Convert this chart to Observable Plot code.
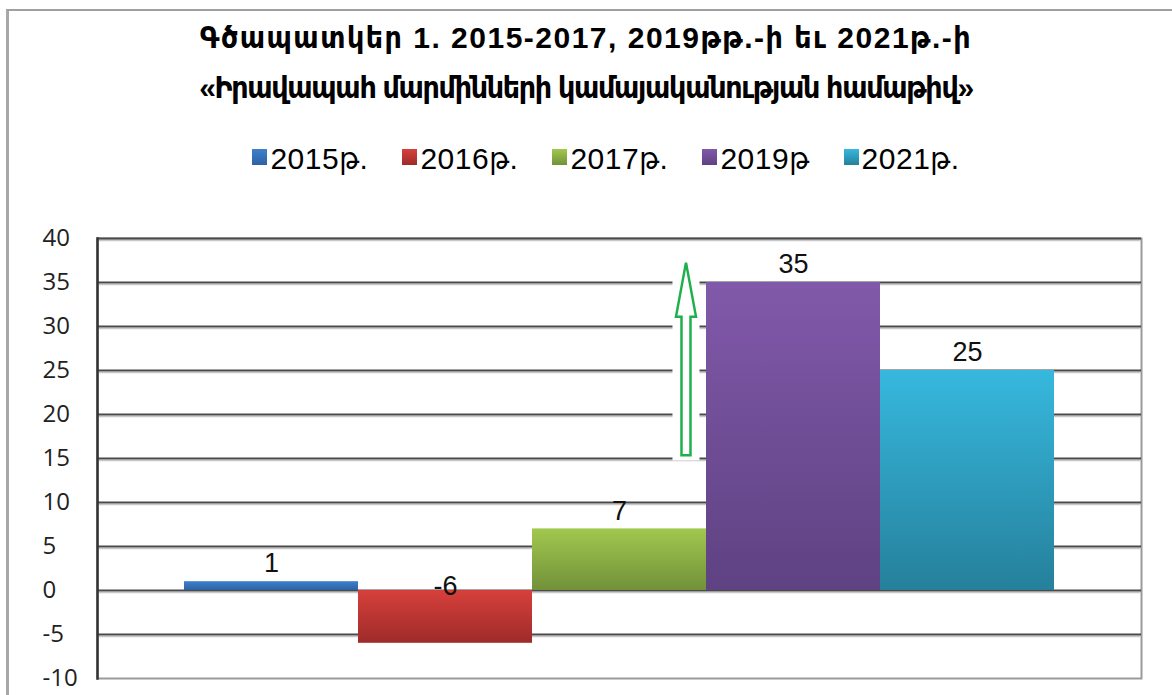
<!DOCTYPE html>
<html>
<head>
<meta charset="utf-8">
<script src="https://cdn.jsdelivr.net/npm/d3@7"></script>
<script src="https://cdn.jsdelivr.net/npm/@observablehq/plot@0.6"></script>
<style>
  body { margin: 0; background: #fff; width: 1172px; height: 695px; overflow: hidden; position: relative; }
  #frame { position: absolute; left: 6px; top: 9px; width: 1200px; height: 720px; border-left: 3px solid #a8a8a8; border-top: 2px solid #a0a0a0; box-sizing: border-box; }
  .title { position: absolute; left: 0; width: 1172px; text-align: center; font-family: "Liberation Sans", "DejaVu Sans Condensed", "DejaVu Sans", sans-serif; font-weight: bold; font-size: 30px; line-height: 30px; color: #000; white-space: nowrap; }
  #legend { position: absolute; left: 0; top: 143px; width: 1172px; padding-left: 40px; box-sizing: border-box; display: flex; justify-content: center; gap: 34px; font-family: "Liberation Sans", "DejaVu Sans Condensed", "DejaVu Sans", sans-serif; font-size: 30px; line-height: 32px; color: #000; letter-spacing: 0.5px; }
  .item { display: flex; align-items: center; white-space: nowrap; }
  .sw { display: inline-block; width: 15px; height: 16px; margin-right: 3px; margin-top: -4px; }
  #chart { position: absolute; left: 0; top: 205px; }
</style>
</head>
<body>
<div id="frame"></div>
<div class="title" id="t1" style="top:23px; letter-spacing: 1.5px"></div>
<div class="title" id="t2" style="top:73px; letter-spacing: -1.3px"></div>
<div id="legend"></div>
<div id="chart"></div>
<script>
// ---- data ----
const titleLine1 = "Գծապատկեր 1. 2015-2017, 2019թթ.-ի եւ 2021թ.-ի";
const titleLine2 = "«Իրավապահ մարմինների կամայականության համաթիվ»";
const years = ["2015թ.", "2016թ.", "2017թ.", "2019թ", "2021թ."];
const values = [1, -6, 7, 35, 25];
const yTicks = [-10, -5, 0, 5, 10, 15, 20, 25, 30, 35, 40];
// annotation arrow (value range on the y axis)
const arrowFrom = 15.3;
const arrowTo = 37.2;

// ---- styles ----
const topColors = ["#3f7fcb", "#d6403c", "#a2c84e", "#8159aa", "#37b8de"];
const bottomColors = ["#2d62a4", "#9f2b29", "#72913a", "#5e4282", "#25809b"];

document.getElementById("t1").textContent = titleLine1;
document.getElementById("t2").textContent = titleLine2;

const legend = document.getElementById("legend");
years.forEach((y, i) => {
  const it = document.createElement("div");
  it.className = "item";
  const sw = document.createElement("span");
  sw.className = "sw";
  sw.style.background = `linear-gradient(${topColors[i]}, ${bottomColors[i]})`;
  const tx = document.createElement("span");
  tx.textContent = y;
  it.appendChild(sw); it.appendChild(tx);
  legend.appendChild(it);
});

const data = years.map((year, i) => ({year, value: values[i], i}));

const defsMark = () => {
  const g = d3.create("svg:g");
  const defs = g.append("defs");
  years.forEach((y, i) => {
    const lg = defs.append("linearGradient").attr("id", "bar-grad-" + i)
      .attr("x1", 0).attr("y1", 0).attr("x2", 0).attr("y2", 1);
    lg.append("stop").attr("offset", "0%").attr("stop-color", topColors[i]);
    lg.append("stop").attr("offset", "100%").attr("stop-color", bottomColors[i]);
  });
  return g.node();
};

const arrowMark = (index, scales) => {
  const x = scales.x, y = scales.y;
  const bw = x.bandwidth ? x.bandwidth() : 174;
  const cx = x(years[2]) + bw * 0.885;
  const yb = y(arrowFrom), yt = y(arrowTo);
  const sw = 4.5, hw = 10, hl = 54;
  const g = d3.create("svg:g");
  g.append("rect").attr("x", cx - 13.5).attr("y", yt).attr("width", 27).attr("height", yb - yt + 5).attr("fill", "#fff");
  const pts = [[cx - sw, yb], [cx - sw, yt + hl], [cx - hw, yt + hl], [cx, yt], [cx + hw, yt + hl], [cx + sw, yt + hl], [cx + sw, yb]];
  g.append("polygon").attr("points", pts.map(p => p.join(",")).join(" "))
    .attr("fill", "#fff").attr("stroke", "#1fb04c").attr("stroke-width", 2.5).attr("stroke-linejoin", "miter");
  return g.node();
};

const plot = Plot.plot({
  width: 1172,
  height: 490,
  marginTop: 33,
  marginBottom: 17,
  marginLeft: 97,
  marginRight: 31,
  style: { fontFamily: "'Liberation Sans', Arial, sans-serif", background: "transparent", overflow: "visible" },
  x: { type: "band", domain: years, paddingInner: 0, paddingOuter: 0.5, axis: null },
  y: { domain: [-10, 40], ticks: yTicks, label: null },
  color: { type: "identity" },
  marks: [
    defsMark,
    Plot.frame({ stroke: "#9a9a9a", strokeWidth: 2 }),
    Plot.ruleY(yTicks.filter(t => t > -10), { dy: 2, stroke: "#c8c8c8", strokeWidth: 1.5 }),
    Plot.ruleY(yTicks.filter(t => t > -10), { stroke: "#4a4a4a", strokeWidth: 2 }),
    Plot.frame({ anchor: "left", stroke: "#333", strokeWidth: 2.5 }),
    Plot.barY(data, { x: "year", y: "value", fill: d => `url(#bar-grad-${d.i})` }),
    Plot.axisY(yTicks, { label: null, tickSize: 0, tickPadding: 55, textAnchor: "start", tickFormat: d => String(d), fontSize: 24, fontFamily: "'Open Sans', sans-serif", fill: "#222" }),
    Plot.text(data.filter(d => d.value >= 0), { x: "year", y: "value", text: d => String(d.value), dy: -18, fontSize: 27, fill: "#111" }),
    Plot.text(data.filter(d => d.value < 0), { x: "year", y: 0, text: d => String(d.value), dy: -4, fontSize: 27, fill: "#111" }),
    arrowMark
  ]
});
document.getElementById("chart").appendChild(plot);
</script>
</body>
</html>
